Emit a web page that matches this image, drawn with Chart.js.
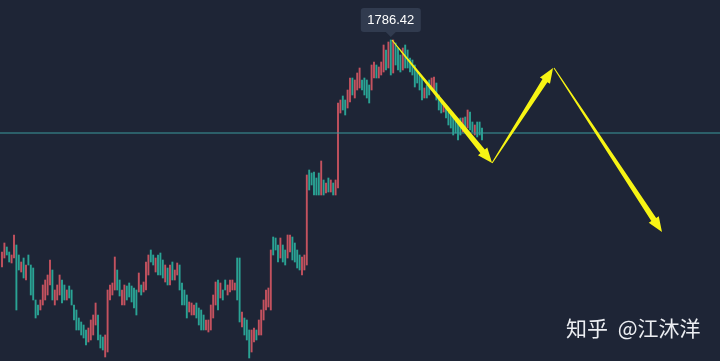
<!DOCTYPE html>
<html><head><meta charset="utf-8">
<script src="https://cdn.jsdelivr.net/npm/chart.js@4"></script>
<style>
html,body{margin:0;padding:0;background:#1e2536;}
#wrap{position:relative;width:720px;height:361px;overflow:hidden;background:#1e2536;}
#mark{position:absolute;left:566px;top:312px;font-family:"Noto Sans CJK SC";font-size:21px;color:#eceef2;white-space:pre;line-height:30px;word-spacing:5px;}
</style></head><body>
<div id="wrap"><canvas id="c" width="720" height="361"></canvas><div id="mark">知乎 @江沐洋</div></div>
<script>
const openPrices=[
1672.9,1677.4,1682.9,1680.4,1674.9,1677.4,1683.9,1678.9,1670.4,1677.4,
1666.4,1678.9,1673.9,1672.4,1656.4,1653.9,1651.4,1653.9,1656.4,1658.9,
1663.9,1671.4,1653.9,1656.4,1658.9,1666.4,1663.9,1656.4,1663.4,1661.4,
1653.9,1651.4,1647.4,1645.4,1643.9,1641.4,1635.4,1636.4,1638.9,1643.9,
1648.9,1638.9,1637.9,1627.9,1630.4,1656.4,1658.9,1661.4,1671.4,1666.4,
1653.9,1653.9,1663.4,1664.9,1663.4,1662.4,1661.4,1660.4,1663.9,1660.4,
1661.4,1668.9,1681.4,1678.9,1670.4,1678.9,1679.9,1676.4,1665.4,1672.4,
1663.9,1675.4,1666.4,1668.9,1673.9,1664.9,1661.4,1658.9,1650.4,1648.9,
1648.9,1654.9,1652.4,1651.4,1648.9,1641.4,1640.4,1641.4,1647.4,1653.9,
1666.4,1657.4,1661.4,1666.4,1658.9,1660.4,1661.4,1661.4,1677.4,1677.4,
1642.9,1647.4,1646.4,1641.4,1630.4,1635.4,1641.4,1638.9,1638.9,1646.4,
1651.4,1652.9,1651.4,1687.9,1687.4,1683.9,1677.4,1683.9,1681.4,1677.4,
1680.4,1687.9,1684.9,1681.4,1678.9,1668.9,1671.4,1673.9,1721.4,1719.9,
1720.4,1717.4,1719.9,1708.9,1716.4,1709.9,1717.4,1710.4,1714.9,1708.9,
1712.4,1749.9,1758.4,1756.4,1752.4,1755.4,1767.4,1757.4,1761.4,1762.4,
1766.4,1767.4,1766.4,1763.9,1761.4,1767.4,1773.9,1767.4,1768.9,1770.4,
1781.4,1772.4,1786.42,1769.9,1784.9,1782.4,1778.9,1771.4,1783.9,1781.4,
1777.4,1776.4,1773.9,1770.4,1768.9,1767.9,1757.4,1763.9,1766.4,1761.4,
1760.4,1764.9,1758.9,1756.4,1750.4,1752.4,1750.4,1750.4,1748.9,1747.9,
1746.4,1747.4,1740.4,1747.9,1742.4,1750.4,1745.4,1738.9,1745.4,1745.4,
1742.4];
const closePrices=[
1680.4,1684.9,1678.9,1675.4,1678.9,1688.9,1651.4,1671.4,1675.4,1667.4,
1673.9,1673.9,1658.9,1656.4,1647.4,1648.9,1656.4,1663.9,1666.4,1668.9,
1676.4,1656.4,1661.4,1663.9,1668.9,1654.9,1656.4,1661.4,1657.4,1653.9,
1646.4,1641.4,1641.4,1638.9,1637.4,1633.9,1642.4,1646.4,1648.9,1654.9,
1636.4,1632.4,1631.4,1638.9,1661.4,1663.9,1664.9,1677.9,1661.4,1658.4,
1661.4,1663.9,1656.4,1657.9,1655.4,1652.4,1648.9,1669.9,1658.9,1665.4,
1675.4,1678.9,1675.4,1673.9,1677.4,1668.9,1668.9,1667.4,1673.9,1663.9,
1673.9,1666.4,1671.4,1674.9,1661.4,1653.9,1653.9,1647.4,1655.4,1654.9,
1653.9,1647.4,1643.9,1641.4,1641.4,1646.4,1646.4,1653.9,1658.9,1665.4,
1651.4,1664.9,1656.4,1661.4,1663.9,1666.4,1666.4,1664.9,1656.4,1645.4,
1650.4,1638.9,1636.4,1627.4,1641.4,1642.4,1636.4,1646.4,1651.4,1656.4,
1661.4,1662.4,1681.4,1678.9,1681.4,1675.4,1687.4,1675.4,1673.9,1688.9,
1688.9,1676.4,1675.4,1672.4,1671.4,1677.9,1678.9,1718.9,1711.4,1713.9,
1708.9,1708.9,1708.9,1725.9,1708.9,1714.9,1710.4,1716.4,1708.9,1716.4,
1754.9,1756.4,1751.4,1748.9,1761.4,1767.4,1758.9,1766.4,1769.9,1772.4,
1761.4,1758.9,1757.4,1754.9,1773.9,1775.4,1767.4,1772.9,1775.4,1783.9,
1771.4,1785.4,1768.9,1786.4,1773.9,1771.4,1770.4,1782.4,1772.4,1772.4,
1770.4,1768.9,1762.9,1764.9,1761.4,1756.4,1762.4,1757.4,1758.9,1767.4,
1767.9,1756.4,1751.4,1749.9,1753.9,1747.4,1743.9,1742.4,1738.9,1739.9,
1736.4,1738.9,1747.4,1742.4,1751.4,1741.4,1740.4,1743.9,1737.9,1738.9,
1736.4];
const levelPrice=1739.9;
const arrowFromX=[162.5,204.2,230.0];
const arrowFromY=[1786.4,1724.9,1772.4];
const arrowToX=[204.2,229.6,275.0];
const arrowToY=[1724.9,1772.4,1690.4];

const UP='#c4525f', DOWN='#2aa394';
const X_MIN=-0.8333, X_MAX=299.1667, Y_MIN=1625.9, Y_MAX=1806.4;

function drawArrow(ctx,x0,y0,x1,y1){
  const dx=x1-x0, dy=y1-y0, L=Math.hypot(dx,dy), ux=dx/L, uy=dy/L, nx=-uy, ny=ux;
  const H=15, W=6, w0=0.5, w1=2.9;
  const bx=x1-ux*H, by=y1-uy*H;
  ctx.beginPath();
  ctx.moveTo(x0+nx*w0,y0+ny*w0);
  ctx.lineTo(bx+nx*w1,by+ny*w1);
  ctx.lineTo(bx+nx*W,by+ny*W);
  ctx.lineTo(x1,y1);
  ctx.lineTo(bx-nx*W,by-ny*W);
  ctx.lineTo(bx-nx*w1,by-ny*w1);
  ctx.lineTo(x0-nx*w0,y0-ny*w0);
  ctx.closePath();
  ctx.fillStyle='#f7f414';
  ctx.fill();
}

const overlay={
  id:'overlay',
  afterDatasetsDraw(chart){
    const ctx=chart.ctx;
    ctx.save();
    chart.data.datasets.forEach((ds,di)=>{
      if(!ds.isArrow) return;
      const m=chart.getDatasetMeta(di);
      const a=m.data[0], b=m.data[1];
      drawArrow(ctx,a.x,a.y,b.x,b.y);
    });
    let pi=0, pv=-Infinity;
    openPrices.forEach((o,i)=>{const h=Math.max(o,closePrices[i]); if(h>pv){pv=h;pi=i;}});
    const px=chart.scales.x.getPixelForValue(pi), py=chart.scales.y.getPixelForValue(pv);
    const bw=60, bh=24, bottom=py-8, top=bottom-bh, left=px-bw/2;
    ctx.fillStyle='#313b4f';
    ctx.beginPath();
    ctx.roundRect(left,top,bw,bh,3);
    ctx.fill();
    ctx.beginPath();
    ctx.moveTo(px-5,bottom);ctx.lineTo(px+5,bottom);ctx.lineTo(px,bottom+5);ctx.closePath();
    ctx.fill();
    ctx.fillStyle='#ffffff';
    ctx.font='13px "Liberation Sans", Arial, sans-serif';
    ctx.textAlign='center';ctx.textBaseline='middle';
    ctx.fillText(pv.toFixed(2),px,top+bh/2+0.5);
    ctx.restore();
  }
};

const datasets=[
  {type:'bar', data:openPrices.map((o,i)=>({x:i,y:[o,closePrices[i]]})),
   backgroundColor:openPrices.map((o,i)=>closePrices[i]>=o?UP:DOWN),
   barThickness:1.25, borderWidth:0, borderSkipped:false, order:2},
  {type:'line', data:[{x:X_MIN,y:levelPrice},{x:X_MAX,y:levelPrice}],
   borderColor:'#3b9a9c', borderWidth:1, pointRadius:0, order:1},
];
for(let k=0;k<arrowFromX.length;k++){
  datasets.push({type:'line', isArrow:true, data:[{x:arrowFromX[k],y:arrowFromY[k]},{x:arrowToX[k],y:arrowToY[k]}],
    showLine:false, pointRadius:0, borderWidth:0, order:0});
}

new Chart(document.getElementById('c'),{
  type:'bar',
  data:{datasets},
  options:{
    responsive:false, animation:false, devicePixelRatio:1,
    layout:{padding:0},
    plugins:{legend:{display:false},tooltip:{enabled:false},title:{display:false}},
    scales:{
      x:{type:'linear',display:false,min:X_MIN,max:X_MAX,offset:false,grid:{display:false}},
      y:{type:'linear',display:false,min:Y_MIN,max:Y_MAX,grid:{display:false}}
    }
  },
  plugins:[overlay]
});
</script>
</body></html>
